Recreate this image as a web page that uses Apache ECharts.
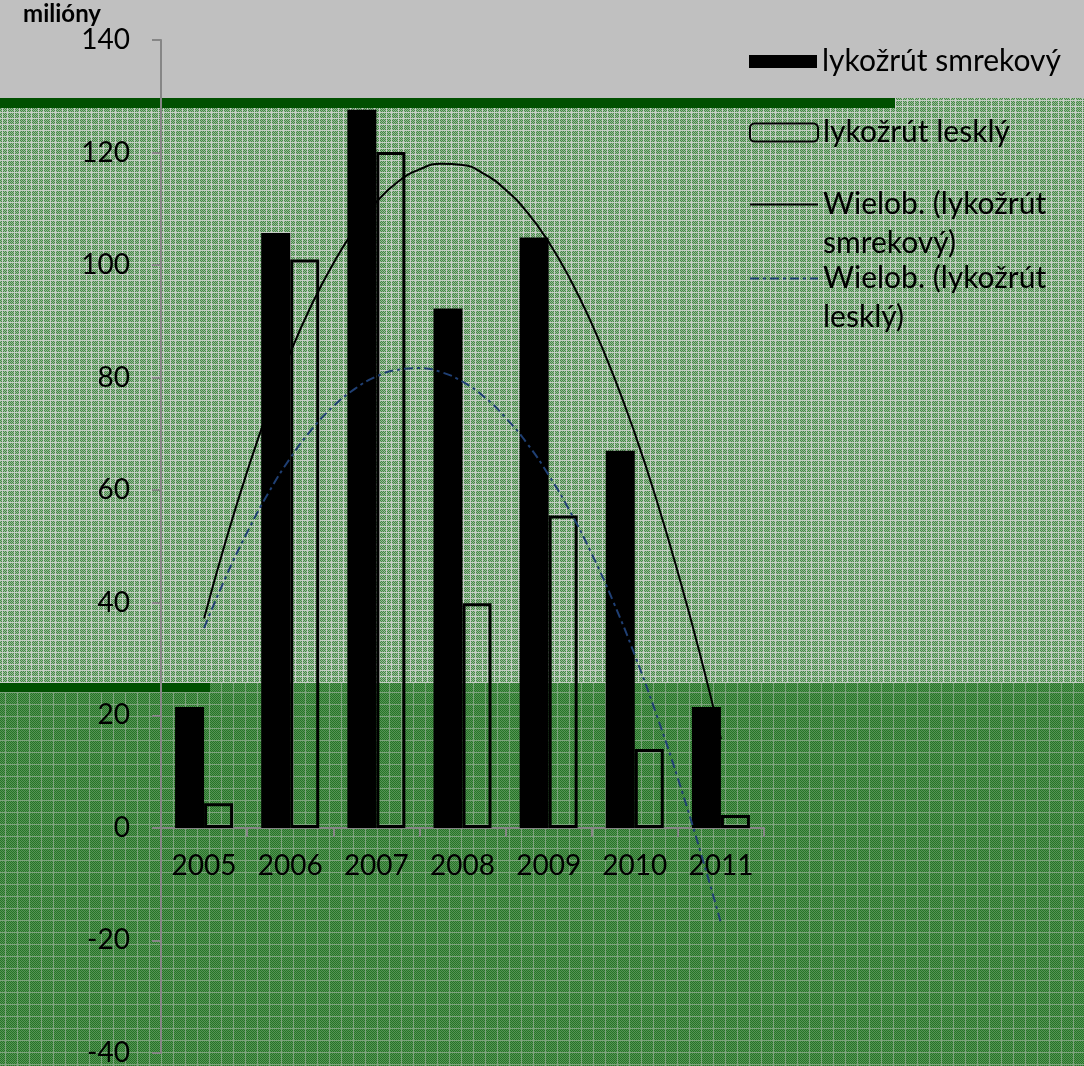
<!DOCTYPE html>
<html>
<head>
<meta charset="utf-8">
<script src="https://cdn.jsdelivr.net/npm/echarts@6/dist/echarts.min.js"></script>
<style>
html, body { margin: 0; padding: 0; }
#container { width: 1084px; height: 1066px; }
</style>
</head>
<body>
<div id="container"></div>
<script>
var years = ['2005', '2006', '2007', '2008', '2009', '2010', '2011'];
var smrekovy = [21.5, 105.7, 127.6, 92.3, 104.9, 67, 21.5];
var leskly = [4.4, 101, 120.1, 39.9, 55.5, 14, 2.3];
// trend curves, every quarter year (0 = 2005)
var trendX = [0, 0.25, 0.5, 0.75, 1, 1.25, 1.5, 1.75, 2, 2.25, 2.5, 2.75, 3,
    3.25, 3.5, 3.75, 4, 4.25, 4.5, 4.75, 5, 5.25, 5.5, 5.75, 6];
var trendSmrekovy = [37.2, 50.9, 63.3, 74.5, 84.4, 93.0, 100.3, 106.4, 111.2, 114.8, 117.0, 118.0, 117.8,
    116.2, 113.4, 109.4, 104.1, 97.5, 89.6, 80.5, 70.1, 58.4, 45.4, 31.3, 15.8];
var trendLeskly = [35.5, 44.5, 52.5, 59.6, 65.7, 70.8, 74.9, 78.0, 80.2, 81.4, 81.7, 81.0, 79.3,
    76.6, 72.9, 68.3, 62.7, 56.2, 48.7, 40.2, 30.7, 20.2, 8.8, -3.6, -16.9];

var names = ['lykožrút smrekový', 'lykožrút lesklý', 'Wielob. (lykožrút\nsmrekový)', 'Wielob. (lykožrút\nlesklý)'];

function makeTile(c1, c2, line, vx, hy) {
    var size = 12;
    var cv = document.createElement('canvas');
    cv.width = size;
    cv.height = size;
    var ctx = cv.getContext('2d');
    for (var y = 0; y < size; y++) {
        for (var x = 0; x < size; x++) {
            ctx.fillStyle = (x + y) % 2 == 0 ? c1 : c2;
            ctx.fillRect(x, y, 1, 1);
        }
    }
    ctx.fillStyle = line;
    vx.forEach(function (x) { ctx.fillRect(x, 0, 1, size); });
    hy.forEach(function (y) { ctx.fillRect(0, y, size, 1); });
    return cv;
}
var upperTile = makeTile('#468a46', '#98b898', '#c6cec6', [2, 7], [4, 10]);
var lowerTile = makeTile('#267626', '#569256', '#7ea47e', [5], [8]);

var dom = document.getElementById('container');
var myChart = echarts.init(dom);

function toPairs(ys) {
    return trendX.map(function (x, i) { return [x, ys[i]]; });
}

var font = 'Lato';
var legendBase = {
    orient: 'vertical',
    left: 749,
    padding: 0,
    itemWidth: 68,
    selectedMode: false,
    textStyle: { fontFamily: font, fontSize: 30, color: '#000', lineHeight: 39 }
};
// two-line names: a blank first line keeps the icon level with the first text line
function twoLine(name) {
    return '\u00a0\n' + name;
}

option = {
    backgroundColor: '#c0c0c0',
    graphic: {
        elements: [
            { type: 'rect', z: -10, shape: { x: 0, y: 98, width: 1084, height: 585 }, style: { fill: { image: upperTile, repeat: 'repeat' } } },
            { type: 'rect', z: -10, shape: { x: 0, y: 683, width: 1084, height: 383 }, style: { fill: { image: lowerTile, repeat: 'repeat' } } },
            { type: 'rect', z: -9, shape: { x: 0, y: 98, width: 895, height: 10 }, style: { fill: '#005000' } },
            { type: 'rect', z: -9, shape: { x: 0, y: 683, width: 210, height: 9 }, style: { fill: '#005000' } }
        ]
    },
    legend: [
        Object.assign({}, legendBase, { top: 42, itemHeight: 13, icon: 'rect', data: [names[0]] }),
        Object.assign({}, legendBase, { top: 113, itemHeight: 18, data: [names[1]] }),
        Object.assign({}, legendBase, { top: 146, itemHeight: 14, formatter: twoLine,
            data: [{ name: names[2], itemStyle: { opacity: 0 } }] }),
        Object.assign({}, legendBase, { top: 220, itemHeight: 14, formatter: twoLine,
            data: [{ name: names[3], itemStyle: { opacity: 0 } }] })
    ],
    grid: { left: 161, top: 40, right: 320, bottom: 13, outerBoundsMode: 'none' },
    xAxis: [{
        type: 'category',
        data: years,
        // bottom of grid is -40, pull the axis up to the 0 line
        offset: -225,
        axisLine: { show: true, onZero: false, lineStyle: { color: '#868686', width: 2 } },
        axisTick: { show: true, length: 9, lineStyle: { color: '#868686', width: 2 } },
        axisLabel: { fontFamily: font, fontSize: 28, color: '#000', margin: 24 }
    }, {
        type: 'value',
        position: 'top',
        min: -0.5,
        max: 6.5,
        show: false
    }],
    yAxis: {
        type: 'value',
        min: -40,
        max: 140,
        interval: 20,
        name: 'milióny',
        nameLocation: 'end',
        nameGap: 9,
        nameTextStyle: { fontFamily: font, fontWeight: 'bold', fontSize: 24, color: '#000', align: 'right', padding: [0, 60, 0, 0] },
        axisLine: { show: true, onZero: false, lineStyle: { color: '#868686', width: 2 } },
        axisTick: { show: true, length: 9, lineStyle: { color: '#868686', width: 2 } },
        axisLabel: { fontFamily: font, fontSize: 28, color: '#000', margin: 31 },
        splitLine: { show: false }
    },
    series: [{
        name: names[0],
        type: 'bar',
        barWidth: 29,
        barGap: '0%',
        itemStyle: { color: '#000' },
        data: smrekovy
    }, {
        name: names[1],
        type: 'bar',
        barWidth: 29,
        barGap: '0%',
        itemStyle: { color: 'rgba(0,0,0,0)', borderColor: '#000', borderWidth: 3 },
        data: leskly
    }, {
        name: names[2],
        type: 'line',
        xAxisIndex: 1,
        smooth: true,
        symbol: 'none',
        z: 3,
        lineStyle: { color: '#000', width: 2 },
        itemStyle: { color: '#000' },
        data: toPairs(trendSmrekovy)
    }, {
        name: names[3],
        type: 'line',
        xAxisIndex: 1,
        smooth: true,
        symbol: 'none',
        z: 3,
        lineStyle: { color: '#1f3f73', width: 2, type: [9, 4, 3, 4] },
        itemStyle: { color: '#1f3f73' },
        data: toPairs(trendLeskly)
    }]
};
if (option && typeof option === 'object') {
    myChart.setOption(option, true);
}
</script>
</body>
</html>
